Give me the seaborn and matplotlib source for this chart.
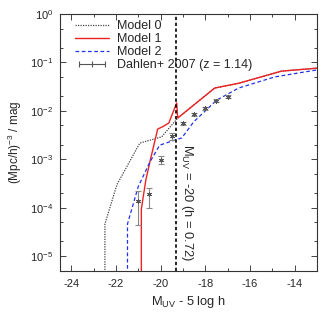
import numpy as np
import pandas as pd
import matplotlib
matplotlib.use("Agg")
import matplotlib.pyplot as plt
import seaborn as sns
from matplotlib.ticker import LogLocator, MultipleLocator, NullFormatter
from matplotlib.legend_handler import HandlerLine2D
from matplotlib.lines import Line2D

# ---- data ----
m0_x = [-22.49, -22.49, -21.95, -20.93, -19.95, -19.23, -17.58, -16.51, -14.59, -13.0]
m0_y = [1e-7, 4.6e-5, 3.0e-4, 2.15e-3, 2.9e-3, 7.1e-3, 2.95e-2, 3.7e-2, 6.6e-2, 7.6e-2]

m1_x = [-20.86, -20.86, -20.66, -20.48, -20.13, -19.90, -19.63, -19.28, -19.23, -17.58, -16.51, -14.59, -13.0]
m1_y = [1e-7, 9.3e-5, 3.7e-4, 8.7e-4, 4.2e-3, 4.7e-3, 5.6e-3, 1.45e-2, 7.1e-3, 2.95e-2, 3.7e-2, 6.6e-2, 7.6e-2]

m2_x = [-21.48, -21.48, -21.0, -20.48, -20.04, -19.23, -19.05, -18.52, -17.49, -16.51, -14.9, -13.0]
m2_y = [1e-7, 4.6e-5, 2.7e-4, 8.7e-4, 1.95e-3, 2.6e-3, 2.75e-3, 5.9e-3, 1.66e-2, 2.95e-2, 5.0e-2, 7.0e-2]

d_x = [-21.0, -20.5, -20.0, -19.5, -19.0, -18.5, -18.0, -17.5, -17.0]
d_y = [1.4e-4, 1.9e-4, 9.5e-4, 3.0e-3, 5.5e-3, 8.5e-3, 1.12e-2, 1.62e-2, 1.95e-2]
d_lo = [4.4e-5, 1.0e-4, 7.9e-4, 2.5e-3, 5.0e-3, 7.8e-3, 1.03e-2, 1.5e-2, 1.8e-2]
d_hi = [2.2e-4, 2.5e-4, 1.17e-3, 3.5e-3, 6.0e-3, 9.2e-3, 1.22e-2, 1.75e-2, 2.1e-2]

mlim = -19.29

# ---- style ----
sns.set_style("ticks")
plt.rcParams['font.family'] = ['Liberation Sans', 'DejaVu Sans']
plt.rcParams['mathtext.fontset'] = 'custom'
plt.rcParams['mathtext.rm'] = 'Liberation Sans'
plt.rcParams['mathtext.it'] = 'Liberation Sans'
plt.rcParams['mathtext.bf'] = 'Liberation Sans'
plt.rcParams['axes.unicode_minus'] = False

fig = plt.figure(figsize=(3.24, 3.24), dpi=100)
ax = fig.add_axes([60/324, 1 - 271/324, 257/324, 257/324])

df0 = pd.DataFrame({"x": m0_x, "y": m0_y})
df1 = pd.DataFrame({"x": m1_x, "y": m1_y})
df2 = pd.DataFrame({"x": m2_x, "y": m2_y})

sns.lineplot(data=df0, x="x", y="y", ax=ax, sort=False, estimator=None,
             color="#444444", lw=0.9, linestyle=(0, (1, 1)), label="Model 0")
sns.lineplot(data=df1, x="x", y="y", ax=ax, sort=False, estimator=None,
             color="#ee2222", lw=1.0, label="Model 1")
sns.lineplot(data=df2, x="x", y="y", ax=ax, sort=False, estimator=None,
             color="#2233ee", lw=0.9, linestyle=(0, (3, 2)), label="Model 2")

yerr = [np.array(d_y) - np.array(d_lo), np.array(d_hi) - np.array(d_y)]
ax.errorbar(d_x, d_y, yerr=yerr, fmt='none', ecolor="#888888", elinewidth=0.8,
            capsize=2.5, capthick=0.8)
ax.plot(d_x, d_y, linestyle='none', marker=(6, 2, 0), ms=3.5, mew=0.7, color="#555555")

ax.axvline(mlim, color="black", lw=1.2, linestyle=(0, (2, 1.5)))
ax.text(-18.83, 2.1e-3, r"M$_{\rm UV}$ = -20 (h = 0.72)", rotation=270,
        ha='center', va='top', fontsize=9.3)

ax.set_yscale('log')
ax.set_xlim(-24.5, -13.0)
ax.set_ylim(4.9e-6, 1.0)

ax.xaxis.set_major_locator(MultipleLocator(2))
ax.xaxis.set_minor_locator(MultipleLocator(1))
ax.yaxis.set_major_locator(LogLocator(base=10, numticks=20))
ax.yaxis.set_minor_locator(LogLocator(base=10, subs=(2.0, 5.0), numticks=20))
ax.yaxis.set_minor_formatter(NullFormatter())
ax.tick_params(which='both', direction='in', top=True, right=True, labelsize=8)
ax.tick_params(axis='x', pad=6)
ax.tick_params(axis='y', pad=5)
ax.tick_params(which='major', length=4, width=0.6)
ax.tick_params(which='minor', length=2, width=0.6)
for s in ax.spines.values():
    s.set_linewidth(0.8)
    s.set_color('#333333')

ax.set_xlabel(r"M$_{\rm UV}$ - 5 log h", fontsize=9.3, labelpad=3)
ax.set_ylabel(r"(Mpc/h)$^{-3}$ / mag", fontsize=8.5, labelpad=4)

handles, labels = ax.get_legend_handles_labels()
dh = Line2D([], [], color="#555555", lw=0.8, marker='|', ms=5, mew=0.8)
handles = handles[:3] + [dh]
labels = labels[:3] + ["Dahlen+ 2007 (z = 1.14)"]
ax.legend(handles, labels, loc='upper left', bbox_to_anchor=(0.058, 0.977),
          frameon=False, fontsize=9, handlelength=2.7, handletextpad=0.65,
          labelspacing=0.08, borderpad=0, borderaxespad=0,
          handler_map={dh: HandlerLine2D(numpoints=3)})

fig.savefig("out.png", dpi=100)
